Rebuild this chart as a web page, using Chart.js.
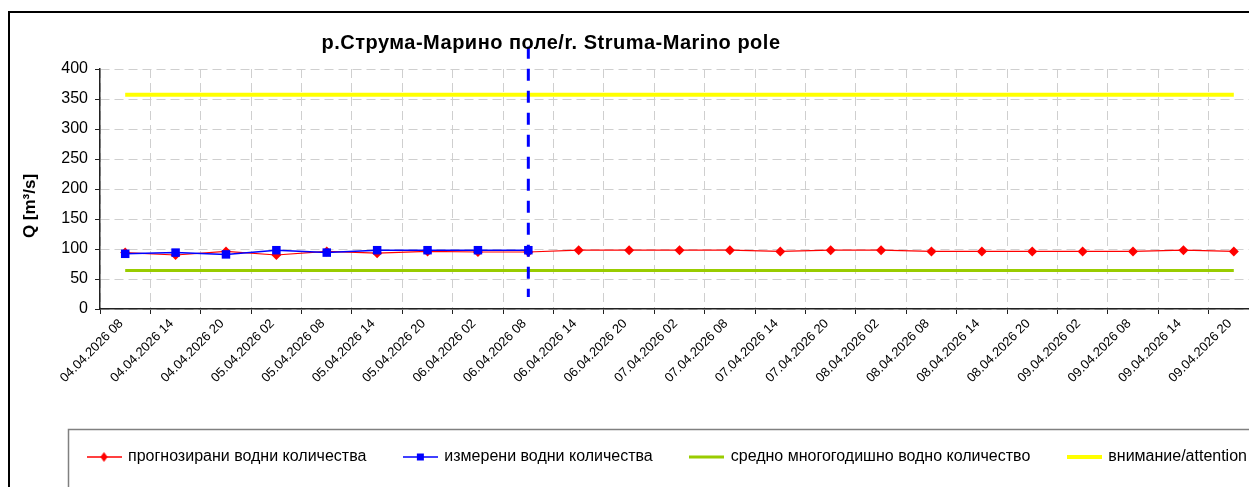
<!DOCTYPE html>
<html>
<head>
<meta charset="utf-8">
<title>р.Струма-Марино поле</title>
<script src="https://cdn.jsdelivr.net/npm/chart.js@4.4.1/dist/chart.umd.min.js"></script>
<style>
  html, body { margin: 0; padding: 0; background: #fff; overflow: hidden; }
  #wrap { position: absolute; left: 0; top: 0; width: 1275px; height: 487px; }
  #chartTitle {
    position: absolute; left: 0; top: 31px; width: 1102px;
    text-align: center; font: bold 20px Arial, "Liberation Sans", sans-serif;
    letter-spacing: 0.5px; line-height: 22px; color: #000;
  }
</style>
</head>
<body>
<div id="wrap">
  <canvas id="chart"></canvas>
  <div id="chartTitle">р.Струма-Марино поле/r. Struma-Marino pole</div>
</div>
<script>
// Chart data
const timeLabels = [
    '04.04.2026 08', '04.04.2026 14', '04.04.2026 20',
    '05.04.2026 02', '05.04.2026 08', '05.04.2026 14', '05.04.2026 20',
    '06.04.2026 02', '06.04.2026 08', '06.04.2026 14', '06.04.2026 20',
    '07.04.2026 02', '07.04.2026 08', '07.04.2026 14', '07.04.2026 20',
    '08.04.2026 02', '08.04.2026 08', '08.04.2026 14', '08.04.2026 20',
    '09.04.2026 02', '09.04.2026 08', '09.04.2026 14', '09.04.2026 20'
];
const forecastQ = [94, 90, 96, 90, 96, 93, 96, 95, 95, 98, 98, 98, 98, 96, 98, 98, 96, 96, 96, 96, 96, 98, 96];
const measuredQ = [92, 94, 91, 98, 94, 98, 98, 98, 98, null, null, null, null, null, null, null, null, null, null, null, null, null, null];
const meanQ = [64, 64, 64, 64, 64, 64, 64, 64, 64, 64, 64, 64, 64, 64, 64, 64, 64, 64, 64, 64, 64, 64, 64];
const attentionQ = [357, 357, 357, 357, 357, 357, 357, 357, 357, 357, 357, 357, 357, 357, 357, 357, 357, 357, 357, 357, 357, 357, 357];
const nowLabel = '06.04.2026 08';
const nowLineRange = [437, 20];
const yTicks = { min: 0, max: 400, step: 50 };

const FONT = 'Arial, "Liberation Sans", sans-serif';
const gridColor = '#cfcfcf';
const axisColor = '#222';

// small canvases used as legend symbols (line + marker)
function makeLegendIcon(color, lineWidth, marker) {
    const c = document.createElement('canvas');
    c.width = 35;
    c.height = 12;
    const g = c.getContext('2d');
    g.strokeStyle = color;
    g.lineWidth = lineWidth;
    g.beginPath();
    g.moveTo(0, 6);
    g.lineTo(35, 6);
    g.stroke();
    g.fillStyle = color;
    if (marker === 'diamond') {
        g.beginPath();
        g.moveTo(17.5, 1);
        g.lineTo(21, 6);
        g.lineTo(17.5, 11);
        g.lineTo(14, 6);
        g.closePath();
        g.fill();
    } else if (marker === 'square') {
        g.fillRect(14, 2.5, 7, 7);
    }
    return c;
}

const legendIcons = [
    makeLegendIcon('#ff0000', 1.5, 'diamond'),
    makeLegendIcon('#0000ff', 1.5, 'square'),
    makeLegendIcon('#99cc00', 3, null),
    makeLegendIcon('#ffff00', 4, null)
];

// frames around the chart and the legend
const framePlugin = {
    id: 'frames',
    beforeDraw(chart) {
        const ctx = chart.ctx;
        ctx.save();
        ctx.strokeStyle = '#000';
        ctx.lineWidth = 2;
        ctx.strokeRect(9, 12, 1400, 600);
        ctx.strokeStyle = '#808080';
        ctx.lineWidth = 1.5;
        ctx.strokeRect(68.5, 429.5, 1400, 200);
        ctx.restore();
    }
};

// move the legend row to the right, like the original
const legendShift = {
    id: 'legendShift',
    afterLayout(chart) {
        chart.legend.left += 40;
        chart.legend.right += 40;
    }
};

const ctx = document.getElementById('chart').getContext('2d');
new Chart(ctx, {
    type: 'line',
    data: {
        labels: timeLabels,
        datasets: [
            {
                label: 'прогнозирани водни количества',
                data: forecastQ,
                borderColor: '#ff0000',
                backgroundColor: '#ff0000',
                borderWidth: 1.2,
                pointStyle: 'rectRot',
                pointRadius: 5,
                pointBorderWidth: 0,
                order: 2
            },
            {
                label: 'измерени водни количества',
                data: measuredQ,
                borderColor: '#0000ff',
                backgroundColor: '#0000ff',
                borderWidth: 1.5,
                pointStyle: 'rect',
                pointRadius: 6,
                pointBorderWidth: 0,
                spanGaps: false,
                order: 1
            },
            {
                label: 'средно многогодишно водно количество',
                data: meanQ,
                borderColor: '#99cc00',
                backgroundColor: '#99cc00',
                borderWidth: 3,
                pointRadius: 0,
                order: 3
            },
            {
                label: 'внимание/attention',
                data: attentionQ,
                borderColor: '#ffff00',
                backgroundColor: '#ffff00',
                borderWidth: 4,
                pointRadius: 0,
                order: 3
            },
            {
                label: 'now',
                data: nowLineRange.map(v => ({ x: nowLabel, y: v })),
                borderColor: '#0000ff',
                borderWidth: 3,
                borderDash: [12, 10],
                pointRadius: 0,
                clip: false,
                order: 0
            }
        ]
    },
    options: {
        responsive: true,
        maintainAspectRatio: false,
        animation: false,
        layout: { padding: { left: 10, right: 16, top: 69, bottom: 12 } },
        plugins: {
            title: { display: false },
            tooltip: { enabled: false },
            legend: {
                display: true,
                position: 'bottom',
                align: 'start',
                labels: {
                    font: { family: FONT, size: 16 },
                    color: '#000',
                    usePointStyle: true,
                    pointStyleWidth: 32,
                    padding: 38,
                    sort: (a, b) => a.datasetIndex - b.datasetIndex,
                    generateLabels(chart) {
                        return Chart.defaults.plugins.legend.labels.generateLabels(chart)
                            .filter(item => item.datasetIndex < 4)
                            .map(item => ({ ...item, pointStyle: legendIcons[item.datasetIndex] }));
                    }
                }
            }
        },
        scales: {
            x: {
                offset: true,
                grid: { offset: true, color: gridColor, lineWidth: 1, tickLength: 5, tickColor: axisColor, tickWidth: 1 },
                border: { color: axisColor, width: 1.5, dash: [9, 5] },
                ticks: {
                    autoSkip: false,
                    minRotation: 45,
                    maxRotation: 45,
                    padding: 2,
                    labelOffset: -4,
                    color: '#000',
                    font: { family: FONT, size: 13 }
                },
                afterFit(scale) { scale.height = 102; }
            },
            y: {
                min: yTicks.min,
                max: yTicks.max,
                grid: { color: gridColor, lineWidth: 1, tickLength: 5, tickColor: axisColor, tickWidth: 1 },
                border: { color: axisColor, width: 1.5, dash: [9, 5] },
                ticks: {
                    stepSize: yTicks.step,
                    padding: 7,
                    color: '#000',
                    font: { family: FONT, size: 16 }
                },
                title: {
                    display: true,
                    // trailing en spaces push the rotated title down a little, as in the original
                    text: 'Q [m³/s]\u2002\u2002\u2002\u2002',
                    color: '#000',
                    font: { family: FONT, size: 17, weight: 'bold' },
                    padding: { top: 10, bottom: 0 }
                },
                afterFit(scale) { scale.width = 90; }
            }
        }
    },
    plugins: [framePlugin, legendShift]
});
</script>
</body>
</html>
